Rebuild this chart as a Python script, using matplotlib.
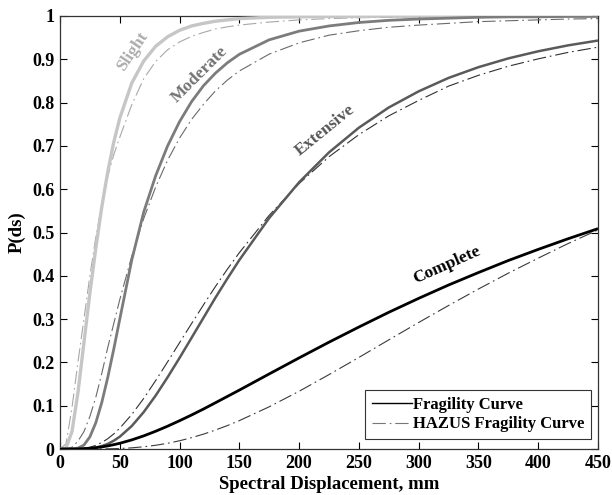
import matplotlib
matplotlib.use("Agg")
import matplotlib.pyplot as plt
from matplotlib.lines import Line2D

sd_mm = [0, 5, 10, 15, 20, 25, 30, 35, 40, 45, 50, 60, 70, 80, 90, 100, 110, 120,
         130, 140, 150, 175, 200, 225, 250, 275, 300, 325, 350, 375, 400, 425, 450]

slight_frag = [0, 0.002, 0.04, 0.13, 0.245, 0.36, 0.465, 0.56, 0.641, 0.709, 0.764,
               0.845, 0.896, 0.930, 0.952, 0.967, 0.977, 0.983, 0.988, 0.991, 0.994,
               0.997, 0.998, 0.999, 0.999, 1.0, 1.0, 1.0, 1.0, 1.0, 1.0, 1.0, 1.0]
slight_hazus = [0, 0.012, 0.095, 0.2, 0.3, 0.4, 0.49, 0.565, 0.63, 0.68, 0.72,
                0.795, 0.855, 0.895, 0.922, 0.94, 0.953, 0.962, 0.97, 0.975, 0.979,
                0.986, 0.991, 0.994, 0.996, 0.997, 0.998, 0.9985, 0.999, 0.9992,
                0.9993, 0.9994, 0.9995]
moderate_frag = [0, 0, 0.0001, 0.002, 0.009, 0.028, 0.061, 0.108, 0.166, 0.231, 0.300,
                 0.436, 0.547, 0.631, 0.70, 0.756, 0.802, 0.839, 0.868, 0.892, 0.9115,
                 0.945, 0.965, 0.977, 0.985, 0.99, 0.993, 0.995, 0.997, 0.998, 0.998,
                 0.999, 0.999]
moderate_hazus = [0, 0.0003, 0.004, 0.018, 0.04, 0.075, 0.12, 0.175, 0.235, 0.29, 0.345,
                  0.445, 0.532, 0.605, 0.667, 0.718, 0.761, 0.796, 0.827, 0.852, 0.873,
                  0.912, 0.938, 0.9557, 0.966, 0.974, 0.979, 0.983, 0.987, 0.989, 0.991,
                  0.993, 0.994]
extensive_frag = [0, 0, 0, 0, 0.0004, 0.0013, 0.0033, 0.0067, 0.0119, 0.0192, 0.0284,
                  0.053, 0.0852, 0.1233, 0.1657, 0.2104, 0.2566, 0.303, 0.3494, 0.3936,
                  0.4364, 0.5335, 0.616, 0.685, 0.742, 0.7887, 0.826, 0.857, 0.8818,
                  0.9021, 0.9185, 0.9322, 0.9433]
extensive_hazus = [0, 0, 0, 0.0002, 0.0016, 0.0041, 0.0085, 0.0151, 0.0239, 0.0349, 0.048,
                   0.0796, 0.1167, 0.158, 0.2013, 0.2455, 0.2895, 0.3328, 0.3752, 0.4153,
                   0.4534, 0.5398, 0.613, 0.675, 0.726, 0.7694, 0.805, 0.838, 0.863,
                   0.884, 0.901, 0.916, 0.928]
complete_frag = [0, 0, 0, 0.0002, 0.0008, 0.0017, 0.0031, 0.0049, 0.0072, 0.010, 0.0132,
                 0.021, 0.0303, 0.041, 0.0527, 0.0653, 0.0785, 0.0923, 0.1068, 0.1214,
                 0.136, 0.1734, 0.2104, 0.2467, 0.2817, 0.3157, 0.3479, 0.3787, 0.4075,
                 0.4353, 0.461, 0.4856, 0.5089]
complete_hazus = [0, 0, 0, 0, 0, 0, 0.0001, 0.0002, 0.0004, 0.0007, 0.0012,
                  0.0027, 0.0051, 0.0086, 0.0132, 0.019, 0.0261, 0.0343, 0.0438, 0.0541,
                  0.0655, 0.0975, 0.1333, 0.1718, 0.2115, 0.252, 0.2922, 0.3314, 0.3695,
                  0.4061, 0.4408, 0.4745, 0.506]

state_names = ["Slight", "Moderate", "Extensive", "Complete"]
x_ticks = [0, 50, 100, 150, 200, 250, 300, 350, 400, 450]
y_ticks = [0, 0.1, 0.2, 0.3, 0.4, 0.5, 0.6, 0.7, 0.8, 0.9, 1.0]
y_ticklabels = ["0", "0.1", "0.2", "0.3", "0.4", "0.5", "0.6", "0.7", "0.8", "0.9", "1"]

plt.rcParams['font.family'] = ['Liberation Serif', 'DejaVu Serif']
plt.rcParams['font.weight'] = 'bold'

fig = plt.figure(figsize=(6.12, 4.95), dpi=100)
ax = fig.add_axes([60 / 612, 1 - 449 / 495, 538 / 612, 433 / 495])

dd = (12, 3.5, 1.5, 3.5)
frag_series = [slight_frag, moderate_frag, extensive_frag, complete_frag]
hazus_series = [slight_hazus, moderate_hazus, extensive_hazus, complete_hazus]
frag_colors = ['#c6c6c6', '#7c7c7c', '#5a5a5a', '#000000']
frag_lw = [2.4, 2.0, 1.8, 2.0]
hazus_colors = ['#a8a8a8', '#6a6a6a', '#303030', '#3a3a3a']
label_colors = ['#acacac', '#727272', '#555555', '#000000']

for fs, hs, fc, fl, hc in zip(frag_series, hazus_series, frag_colors, frag_lw, hazus_colors):
    ax.plot(sd_mm, hs, color=hc, lw=0.8, dashes=dd, zorder=2)
    ax.plot(sd_mm, fs, color=fc, lw=fl, solid_capstyle='butt', zorder=3)

label_pos = [(61, 0.917), (117, 0.864), (221.5, 0.737), (323.5, 0.425)]
label_rot = [56, 45, 39, 24]
for name, (lx, ly), rot, c in zip(state_names, label_pos, label_rot, label_colors):
    ax.text(lx, ly, name, rotation=rot, rotation_mode='anchor', ha='center', va='center',
            fontsize=12.5, fontweight='bold', color=c)

ax.set_xlim(0, 450)
ax.set_ylim(0, 1)
ax.set_xticks(x_ticks)
ax.set_yticks(y_ticks)
ax.set_yticklabels(y_ticklabels)
ax.tick_params(direction='in', top=True, right=True, length=5, width=0.8,
               labelsize=13, pad=4)
for lab in ax.get_xticklabels() + ax.get_yticklabels():
    lab.set_fontweight('bold')
for sp in ax.spines.values():
    sp.set_linewidth(0.9)
    sp.set_color('#333333')

ax.set_xlabel("Spectral Displacement, mm", fontsize=13.5, fontweight='bold', labelpad=3)
ax.set_ylabel("P(ds)", fontsize=13.5, fontweight='bold', labelpad=5)

handles = [Line2D([], [], color='black', lw=1.0),
           Line2D([], [], color='#777777', lw=0.8, dashes=dd)]
leg = ax.legend(handles, ["Fragility Curve", "HAZUS Fragility Curve"], loc='lower right',
                bbox_to_anchor=((591 - 60) / 538, (449 - 439) / 433), borderaxespad=0,
                fancybox=False, framealpha=1, edgecolor='#333333',
                handlelength=2.4, handletextpad=0.05, borderpad=0.4, labelspacing=0.2,
                prop={'weight': 'bold', 'size': 12})
leg.get_frame().set_linewidth(0.8)

fig.savefig("out.png", dpi=100)
